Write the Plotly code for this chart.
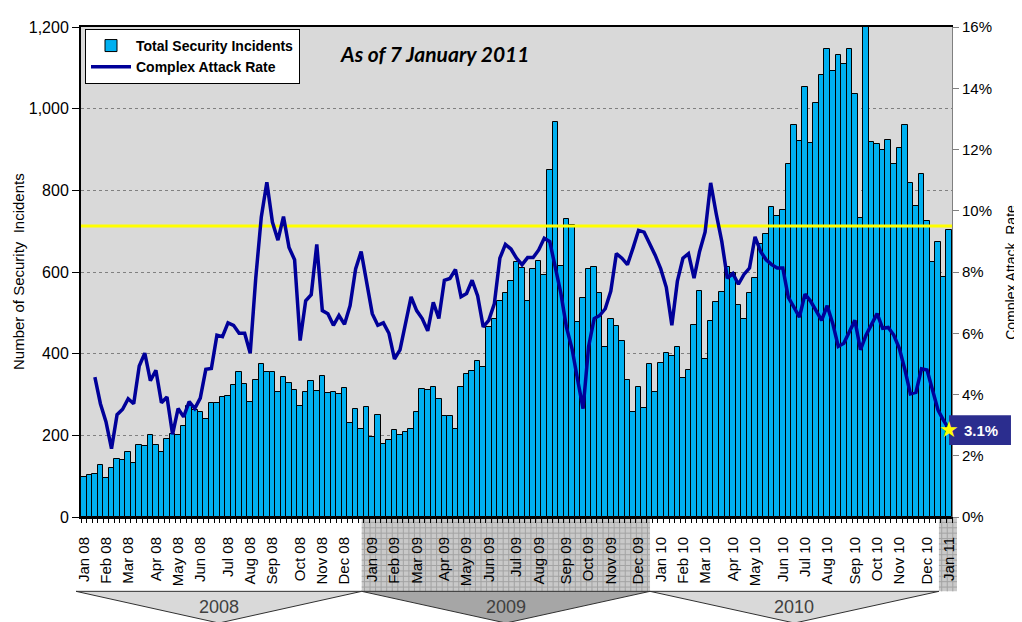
import plotly.graph_objects as go
import pandas as pd

# ---------------- data ----------------
week_start = "2008-01-07"   # first weekly bucket (Mondays)

incidents = [
    99, 103, 105, 127, 95, 120, 142, 139, 159, 133,
    177, 173, 200, 176, 159, 191, 203, 200, 222, 271,
    261, 256, 239, 279, 279, 295, 297, 323, 354, 326,
    282, 336, 374, 356, 356, 305, 343, 329, 310, 271,
    306, 332, 309, 346, 303, 306, 301, 317, 230, 265,
    215, 270, 197, 249, 180, 188, 212, 200, 208, 216,
    256, 313, 311, 318, 289, 247, 247, 216, 318, 349,
    358, 381, 367, 465, 484, 530, 548, 578, 625, 610,
    530, 608, 628, 592, 851, 968, 614, 729, 715, 477,
    536, 608, 612, 549, 417, 485, 468, 432, 336, 256,
    318, 268, 374, 305, 378, 401, 395, 417, 340, 359,
    469, 553, 386, 480, 527, 552, 612, 598, 518, 486,
    548, 586, 668, 692, 758, 738, 753, 865, 959, 921,
    1053, 915, 1013, 1083, 1145, 1093, 1131, 1109, 1147, 1035,
    733, 1300, 919, 913, 899, 924, 865, 903, 959, 817,
    761, 840, 726, 625, 673, 588, 702,
]

complex_rate = [
    None, None, 4.57, 3.70, 3.11, 2.23, 3.34, 3.52, 3.86, 3.70,
    4.93, 5.35, 4.45, 4.79, 3.73, 3.92, 2.70, 3.54, 3.27, 3.77,
    3.54, 3.88, 4.82, 4.85, 5.94, 5.89, 6.34, 6.26, 6.00, 6.00,
    5.35, 7.80, 9.80, 10.93, 9.63, 9.04, 9.81, 8.80, 8.40, 5.76,
    7.06, 7.26, 8.90, 6.74, 6.64, 6.26, 6.58, 6.29, 6.90, 8.10,
    8.67, 7.60, 6.64, 6.26, 6.34, 6.00, 5.16, 5.46, 6.26, 7.19,
    6.74, 6.48, 6.08, 7.01, 6.48, 7.73, 7.79, 8.08, 7.19, 7.30,
    7.73, 7.22, 6.21, 6.42, 6.96, 8.45, 8.90, 8.75, 8.45, 8.24,
    8.47, 8.47, 8.72, 9.10, 8.99, 8.20, 7.30, 6.20, 5.50, 4.50,
    3.54, 5.57, 6.48, 6.58, 6.80, 7.38, 8.60, 8.45, 8.24, 8.78,
    9.36, 9.30, 8.95, 8.55, 8.10, 7.50, 6.26, 7.70, 8.45, 8.60,
    7.80, 8.67, 9.31, 10.91, 9.90, 9.00, 7.80, 7.95, 7.60, 7.92,
    8.13, 9.15, 8.67, 8.40, 8.24, 8.13, 8.13, 7.17, 6.85, 6.53,
    7.28, 7.05, 6.74, 6.42, 6.90, 6.32, 5.57, 5.67, 6.05, 6.42,
    5.46, 5.94, 6.29, 6.64, 6.16, 6.19, 5.94, 5.51, 4.82, 4.02,
    4.07, 4.84, 4.80, 4.18, 3.48, 3.15, 2.85,
]

month_labels = [
    "Jan 08", "Feb 08", "Mar 08", "Apr 08", "May 08", "Jun 08", "Jul 08",
    "Aug 08", "Sep 08", "Oct 08", "Nov 08", "Dec 08",
    "Jan 09", "Feb 09", "Mar 09", "Apr 09", "May 09", "Jun 09", "Jul 09",
    "Aug 09", "Sep 09", "Oct 09", "Nov 09", "Dec 09",
    "Jan 10", "Feb 10", "Mar 10", "Apr 10", "May 10", "Jun 10", "Jul 10",
    "Aug 10", "Sep 10", "Oct 10", "Nov 10", "Dec 10", "Jan 11",
]
year_labels = ["2008", "2009", "2010"]
threshold_rate = 9.5
current_rate_label = "3.1%"
note_text = "As of 7 January 2011"

# ---------------- derived ----------------
weeks = pd.date_range(week_start, periods=len(incidents), freq="7D")
xs = list(range(len(weeks)))
tick_pos = [i for i in xs if i == 0 or weeks[i].month != weeks[i - 1].month]
n = len(xs)

FONT = "Liberation Sans, Arial, sans-serif"
BAR_COLOR = "#00B0F0"
LINE_COLOR = "#000099"

fig = go.Figure()
fig.add_trace(go.Bar(
    x=xs, y=incidents, name="Total Security Incidents",
    marker=dict(color=BAR_COLOR, line=dict(color="#000000", width=1)),
    width=1.0, yaxis="y",
))
fig.add_trace(go.Scatter(
    x=[-0.5, n - 0.5], y=[threshold_rate, threshold_rate], mode="lines",
    line=dict(color="#FFFF00", width=3), yaxis="y2", showlegend=False,
    hoverinfo="skip",
))
fig.add_trace(go.Scatter(
    x=xs, y=complex_rate, name="Complex Attack Rate", mode="lines",
    line=dict(color=LINE_COLOR, width=3.5), yaxis="y2", connectgaps=False,
))

# ------------- decorations below the axis (year bands) -------------
shapes = []
band_top, band_bot, apex = 0.0, -0.1517, -0.2164
year_edges = [-0.0057, 0.3223, 0.6533, 0.985]
jan11_edge = 1.0057

def pattern_rect(x0, x1):
    out = [dict(type="rect", xref="paper", yref="paper", x0=x0, x1=x1,
                y0=band_bot, y1=band_top, fillcolor="#C9C9C9",
                line=dict(width=0), layer="below")]
    step_x = 1.0 / n
    k = 0
    while True:
        xv = x0 + step_x * (k + 0.5)
        if xv >= x1:
            break
        out.append(dict(type="line", xref="paper", yref="paper", x0=xv, x1=xv,
                        y0=band_bot, y1=band_top,
                        line=dict(color="#A3A3A3", width=1), layer="below"))
        k += 1
    yv = band_top - 0.011
    while yv > band_bot:
        out.append(dict(type="line", xref="paper", yref="paper", x0=x0, x1=x1,
                        y0=yv, y1=yv,
                        line=dict(color="#A3A3A3", width=1), layer="below"))
        yv -= 0.011
    return out

shapes += pattern_rect(year_edges[1], year_edges[2])
shapes += pattern_rect(year_edges[3], jan11_edge)

fills = ["#D9D9D9", "#A6A6A6", "#D9D9D9"]
annotations = []
for k, lab in enumerate(year_labels):
    x0, x1 = year_edges[k], year_edges[k + 1]
    xm = (x0 + x1) / 2
    shapes.append(dict(
        type="path", xref="paper", yref="paper",
        path=f"M {x0},{band_bot} L {x1},{band_bot} L {xm},{apex} Z",
        fillcolor=fills[k], line=dict(color="#303030", width=1), layer="below",
    ))
    annotations.append(dict(
        x=xm, y=-0.183, xref="paper", yref="paper", text=lab, showarrow=False,
        font=dict(family=FONT, size=18, color="#404040"),
        xanchor="center", yanchor="middle",
    ))

# current-rate label box
last_val = complex_rate[-1]
shapes.append(dict(
    type="rect", xref="paper", yref="y2", x0=0.9966, x1=1.0677,
    y0=last_val - 0.5, y1=last_val + 0.47, fillcolor="#2B2D8E",
    line=dict(width=0), layer="above",
))
annotations.append(dict(
    x=1.033, y=last_val - 0.02, xref="paper", yref="y2", text=f"<b>{current_rate_label}</b>",
    showarrow=False, font=dict(family=FONT, size=15, color="#FFFFFF"),
    xanchor="center", yanchor="middle",
))
annotations.append(dict(
    x=xs[-1], y=last_val, xref="x", yref="y2", text="\u2605", showarrow=False,
    font=dict(family="DejaVu Sans", size=22, color="#FFFF00"),
    xanchor="center", yanchor="middle",
))

# note
annotations.append(dict(
    x=0.4064, y=0.946, xref="paper", yref="paper", text=f"<b><i>{note_text}</i></b>",
    showarrow=False, font=dict(family="Lato, Open Sans, sans-serif", size=21, color="#000000"),
    xanchor="center", yanchor="middle",
))
# axis titles
annotations.append(dict(
    x=-0.0723, y=0.5, xref="paper", yref="paper",
    text="Number of Security\u00a0 Incidents", textangle=-90, showarrow=False,
    font=dict(family=FONT, size=15, color="#000000"), xanchor="center", yanchor="middle",
))
annotations.append(dict(
    x=1.0675, y=0.5, xref="paper", yref="paper",
    text="Complex Attack\u00a0 Rate", textangle=-90, showarrow=False,
    font=dict(family=FONT, size=14, color="#000000"), xanchor="center", yanchor="middle",
))

fig.update_layout(
    width=1014, height=614,
    margin=dict(l=73, r=70, t=10, b=105),
    paper_bgcolor="#FFFFFF", plot_bgcolor="#D9D9D9",
    bargap=0,
    font=dict(family=FONT, color="#000000"),
    showlegend=True,
    legend=dict(
        x=0.0046, y=0.996, xanchor="left", yanchor="top",
        bgcolor="#FFFFFF", bordercolor="#000000", borderwidth=1,
        font=dict(family=FONT, size=14, color="#000000", weight="bold"),
        tracegroupgap=2, itemwidth=40,
    ),
    xaxis=dict(
        range=[-0.5, n - 0.5], tickmode="array", tickvals=tick_pos, ticktext=month_labels,
        tickangle=-90, ticks="", showgrid=False, zeroline=False,
        showline=True, linecolor="#000000", linewidth=2, mirror=True,
        tickfont=dict(family=FONT, size=15, color="#000000"),
        ticklabelstandoff=12,
        minor=dict(ticks="outside", ticklen=4, tickcolor="#000000", tick0=-0.5, dtick=1,
                   showgrid=False),
    ),
    yaxis=dict(
        range=[0, 1200], dtick=200, tickformat=",d", ticks="outside", ticklen=7,
        tickcolor="#000000", showline=True, linecolor="#000000", linewidth=2,
        showgrid=True, gridcolor="#808080", griddash="dot", gridwidth=1, zeroline=False,
        tickfont=dict(family=FONT, size=16, color="#000000"),
    ),
    yaxis2=dict(
        range=[0, 16], dtick=2, ticksuffix="%", overlaying="y", side="right",
        ticks="outside", ticklen=6, tickcolor="#808080", showline=True,
        linecolor="#808080", linewidth=1, showgrid=False, zeroline=False,
        tickfont=dict(family=FONT, size=15, color="#000000"),
    ),
    shapes=shapes,
    annotations=annotations,
)

fig.write_html("out.html")
